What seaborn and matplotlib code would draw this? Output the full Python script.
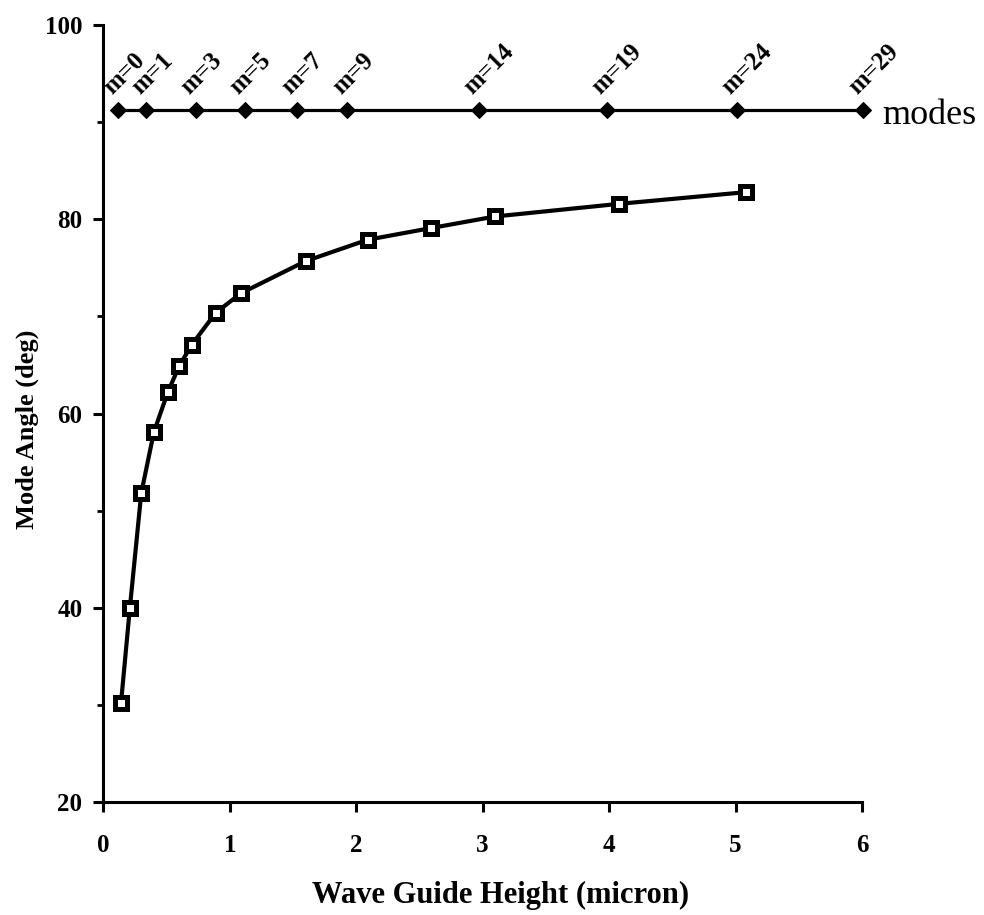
import numpy as np
import pandas as pd
import seaborn as sns
import matplotlib.pyplot as plt
from matplotlib.ticker import MultipleLocator

# mode angle vs wave guide height
height = [0.14, 0.21, 0.30, 0.40, 0.51, 0.60, 0.70, 0.89, 1.09, 1.60, 2.09, 2.59, 3.10, 4.08, 5.08]
angle = [30.2, 40.0, 51.8, 58.1, 62.2, 64.9, 67.1, 70.4, 72.4, 75.7, 77.9, 79.1, 80.3, 81.6, 82.8]

# guided mode onset positions
mode_x = [0.12, 0.34, 0.73, 1.12, 1.53, 1.93, 2.97, 3.98, 5.01, 6.01]
mode_labels = ["m=0", "m=1", "m=3", "m=5", "m=7", "m=9", "m=14", "m=19", "m=24", "m=29"]
mode_level = 91.25

xticks = [0, 1, 2, 3, 4, 5, 6]
yticks = [20, 40, 60, 80, 100]

sns.set_style("ticks")
plt.rcParams["font.family"] = ["Liberation Serif", "DejaVu Serif"]
for key in ["text.color", "axes.labelcolor", "xtick.color", "ytick.color", "axes.edgecolor"]:
    plt.rcParams[key] = "black"

fig = plt.figure(figsize=(9.84, 9.15), dpi=100)
ax = fig.add_axes([0.105, 0.1235, 0.771, 0.849])

df = pd.DataFrame({"h": height, "a": angle})
sns.lineplot(data=df, x="h", y="a", ax=ax, color="black", linewidth=3,
             marker="s", markersize=8, markerfacecolor="white",
             markeredgecolor="black", markeredgewidth=3.6, zorder=3)

modes = pd.DataFrame({"h": mode_x, "a": [mode_level] * len(mode_x)})
sns.lineplot(data=modes, x="h", y="a", ax=ax, color="black", linewidth=2.3,
             marker="D", markersize=8.5, markerfacecolor="black",
             markeredgecolor="black", clip_on=False, zorder=3)

for xm, lab in zip(mode_x, mode_labels):
    ax.annotate(lab, (xm, mode_level), xytext=(-2, 8), textcoords="offset points",
                rotation=45, rotation_mode="anchor", ha="left", va="bottom",
                fontsize=18, fontweight="bold", annotation_clip=False)

ax.annotate("modes", (6.01, mode_level), xytext=(14, -4), textcoords="offset points",
            fontsize=26, va="center", ha="left", annotation_clip=False)

ax.set_xlim(0, 6)
ax.set_ylim(20, 100)
ax.set_xticks(xticks, labels=[str(v) for v in xticks], fontsize=18, fontweight="bold")
ax.set_yticks(yticks, labels=[str(v) for v in yticks], fontsize=18, fontweight="bold")
ax.yaxis.set_minor_locator(MultipleLocator(10))

sns.despine(ax=ax)
for s in ["left", "bottom"]:
    ax.spines[s].set_linewidth(2.2)
ax.tick_params(axis="both", which="major", length=7, width=2.2, direction="out")
ax.tick_params(axis="x", which="major", pad=16)
ax.tick_params(axis="y", which="major", pad=8)
ax.tick_params(axis="y", which="minor", length=4, width=2.0)

ax.set_xlabel("Wave Guide Height (micron)", fontsize=22, fontweight="bold")
ax.set_ylabel("Mode Angle (deg)", fontsize=19, fontweight="bold")
ax.xaxis.set_label_coords(0.524, -0.102)
ax.yaxis.set_label_coords(-0.085, 0.48)

fig.savefig("out.png", dpi=100)
